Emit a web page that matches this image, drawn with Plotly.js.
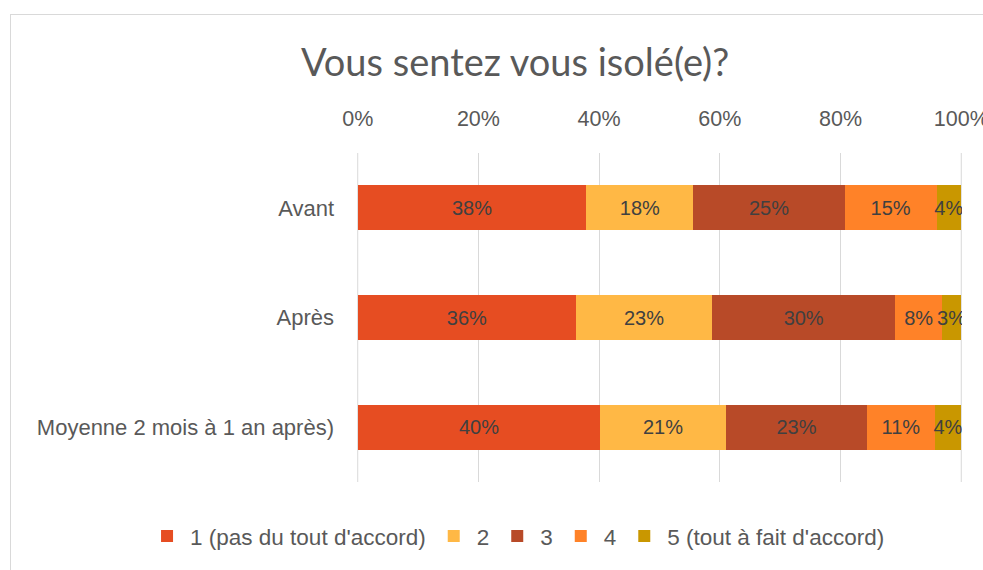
<!DOCTYPE html>
<html><head><meta charset="utf-8">
<script src="https://cdn.plot.ly/plotly-3.0.1.min.js"></script>
<style>
html,body{margin:0;padding:0;background:#fff;}
#frame{position:absolute;left:10px;top:14px;width:1000px;height:600px;border:1px solid #d9d9d9;box-sizing:border-box;}
#chart{position:absolute;left:0;top:0;width:983px;height:570px;}
</style></head>
<body>
<div id="frame"></div>
<div id="chart"></div>
<script>
const categories = ["Avant", "Après", "Moyenne 2 mois à 1 an après)"];
const seriesNames = ["1 (pas du tout d'accord)", "2", "3", "4", "5 (tout à fait d'accord)"];
const s1 = [37.9, 36.2, 40.2];
const s2 = [17.7, 22.5, 20.8];
const s3 = [25.1, 30.4, 23.4];
const s4 = [15.2, 7.7, 11.2];
const s5 = [4.1, 3.2, 4.4];
const colors = ["#E64D22", "#FFB845", "#B84A28", "#FF8228", "#C99700"];
const tickVals = [0, 20, 40, 60, 80, 100];
const tickLabels = ["0%", "20%", "40%", "60%", "80%", "100%"];

const font = "Liberation Sans, Arial, sans-serif";
const series = [s1, s2, s3, s4, s5];
const traces = series.map((vals, i) => ({
  type: "bar",
  orientation: "h",
  name: seriesNames[i],
  y: categories,
  x: vals,
  marker: {color: colors[i], line: {width: 0}},
  texttemplate: "%{x:.0f}%",
  textposition: "inside",
  insidetextanchor: "middle",
  textangle: 0,
  constraintext: "none",
  textfont: {family: font, size: 20, color: "#404040"},
  hoverinfo: "skip"
}));

const edgeGrid = [0, 100].map(v => ({
  type: "line", xref: "x", yref: "paper", x0: v, x1: v, y0: 0, y1: 1,
  layer: "below", line: {color: "#d9d9d9", width: 1}
}));

const layout = {
  width: 983, height: 570,
  paper_bgcolor: "rgba(0,0,0,0)",
  plot_bgcolor: "rgba(0,0,0,0)",
  barmode: "stack",
  bargap: 0.59,
  margin: {l: 357, r: 21, t: 153, b: 88},
  title: {text: "Vous sentez vous isolé(e)?", x: 0.524, xanchor: "center", y: 0.89, yanchor: "middle",
          font: {family: "Lato, Open Sans, sans-serif", size: 38, color: "#595959"}},
  xaxis: {side: "top", range: [-0.12, 100.12], tickvals: tickVals, ticktext: tickLabels,
          showgrid: true, gridcolor: "#d9d9d9", gridwidth: 1, zeroline: false,
          showline: false, ticks: "", fixedrange: true, ticklabelstandoff: 22,
          ticklabeloverflow: "allow",
          tickfont: {family: font, size: 21.5, color: "#595959"}},
  yaxis: {autorange: "reversed", showgrid: false, zeroline: false, showline: false, ticks: "",
          ticklen: 0, ticklabelstandoff: 22,
          tickfont: {family: font, size: 22, color: "#595959"}},
  shapes: edgeGrid,
  showlegend: true,
  legend: {orientation: "h", xref: "paper", yref: "paper",
           x: -0.352, xanchor: "left", y: -0.165, yanchor: "middle",
           traceorder: "normal", font: {family: font, size: 22.5, color: "#595959"},
           itemwidth: 36, bgcolor: "rgba(0,0,0,0)"}
};
Plotly.newPlot("chart", traces, layout, {displayModeBar: false, staticPlot: true});
</script>
</body></html>
